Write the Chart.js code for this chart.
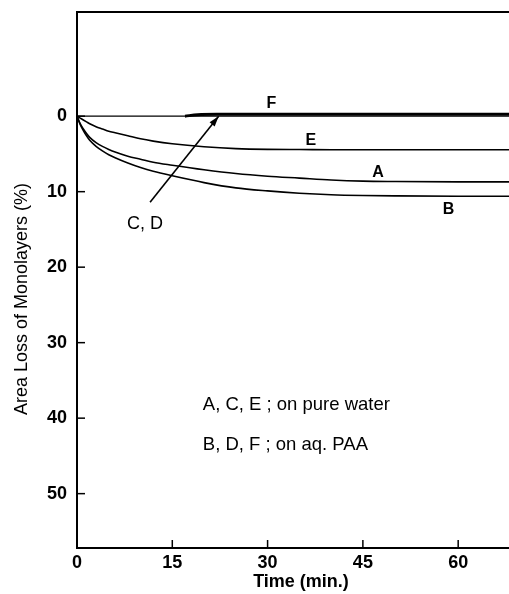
<!DOCTYPE html>
<html>
<head>
<meta charset="utf-8">
<script src="https://cdn.jsdelivr.net/npm/chart.js@4"></script>
<style>
  body { margin: 0; background: #fff; }
  canvas { display: block; }
</style>
</head>
<body>
<canvas id="myChart" width="509" height="594"></canvas>
<script>
// time (min.) and area loss (%)
const times = [0, 0.5, 1, 1.5, 2, 3, 4, 5, 6, 8, 10, 12, 15, 20, 25, 30, 35, 40, 45, 50, 60, 68];
const curveA = [0, 1.0, 1.7, 2.3, 2.8, 3.5, 4.0, 4.4, 4.75, 5.3, 5.7, 6.1, 6.5, 7.1, 7.6, 7.95, 8.2, 8.45, 8.6, 8.65, 8.7, 8.7];
const curveB = [0, 1.1, 1.9, 2.6, 3.2, 4.0, 4.6, 5.1, 5.5, 6.2, 6.8, 7.3, 7.9, 8.8, 9.5, 9.9, 10.2, 10.4, 10.5, 10.55, 10.6, 10.6];
const curveE = [0, 0.25, 0.5, 0.75, 1.0, 1.4, 1.7, 2.0, 2.2, 2.6, 3.0, 3.3, 3.65, 4.05, 4.3, 4.4, 4.42, 4.44, 4.45, 4.45, 4.45, 4.45];
const timesCD = [0, 68];
const curveCD = [0, 0];
const timesF = [17, 19, 22, 30, 45, 60, 68];
const curveF = [0, -0.2, -0.25, -0.25, -0.25, -0.25, -0.25];

const xTicks = [0, 15, 30, 45, 60];
const yTicks = [0, 10, 20, 30, 40, 50];

const toPoints = (xs, ys) => xs.map((x, i) => ({ x: x, y: ys[i] }));

const lineStyle = {
  borderColor: "#000",
  borderWidth: 1.6,
  pointRadius: 0,
  cubicInterpolationMode: "monotone",
  fill: false,
};

const data = {
  datasets: [
    { label: "A", data: toPoints(times, curveA), ...lineStyle },
    { label: "B", data: toPoints(times, curveB), ...lineStyle },
    { label: "E", data: toPoints(times, curveE), ...lineStyle },
    { label: "C, D", data: toPoints(timesCD, curveCD), ...lineStyle, borderWidth: 1.2 },
    { label: "F", data: toPoints(timesF, curveF), ...lineStyle, borderWidth: 3 },
  ],
};

// text placed in data coordinates
const notes = [
  { text: "F", x: 30.6, y: -1.7, font: "bold 16px 'Liberation Sans'" },
  { text: "E", x: 36.8, y: 3.2, font: "bold 16px 'Liberation Sans'" },
  { text: "A", x: 47.4, y: 7.5, font: "bold 16px 'Liberation Sans'" },
  { text: "B", x: 58.5, y: 12.4, font: "bold 16px 'Liberation Sans'" },
  { text: "C, D", x: 10.7, y: 14.3, font: "18px 'Liberation Sans'" },
  { text: "A, C, E ; on pure water", x: 19.8, y: 38.3, font: "18.5px 'Liberation Sans'", align: "left" },
  { text: "B, D, F ; on aq. PAA", x: 19.8, y: 43.6, font: "18.5px 'Liberation Sans'", align: "left" },
];

const figurePlugin = {
  id: "figure",
  afterDraw(chart) {
    const ctx = chart.ctx;
    const xs = chart.scales.x;
    const ys = chart.scales.y;
    const area = chart.chartArea;
    ctx.save();
    ctx.strokeStyle = "#000";
    ctx.fillStyle = "#000";

    // frame: left, bottom, top
    ctx.lineWidth = 2;
    ctx.beginPath();
    ctx.moveTo(area.right, area.top);
    ctx.lineTo(area.left, area.top);
    ctx.lineTo(area.left, area.bottom);
    ctx.lineTo(area.right, area.bottom);
    ctx.stroke();

    // inward tick marks
    ctx.lineWidth = 1.5;
    xTicks.forEach((t) => {
      const px = xs.getPixelForValue(t);
      ctx.beginPath();
      ctx.moveTo(px, area.bottom);
      ctx.lineTo(px, area.bottom - 8);
      ctx.stroke();
    });
    yTicks.forEach((t) => {
      const py = ys.getPixelForValue(t);
      ctx.beginPath();
      ctx.moveTo(area.left, py);
      ctx.lineTo(area.left + 8, py);
      ctx.stroke();
    });

    // arrow pointing at C, D
    const x0 = xs.getPixelForValue(11.5), y0 = ys.getPixelForValue(11.4);
    const x1 = xs.getPixelForValue(22.3), y1 = ys.getPixelForValue(0);
    ctx.lineWidth = 1.6;
    ctx.beginPath();
    ctx.moveTo(x0, y0);
    ctx.lineTo(x1, y1);
    ctx.stroke();
    const ang = Math.atan2(y1 - y0, x1 - x0);
    ctx.beginPath();
    ctx.moveTo(x1, y1);
    ctx.lineTo(x1 - 11 * Math.cos(ang - 0.3), y1 - 11 * Math.sin(ang - 0.3));
    ctx.lineTo(x1 - 11 * Math.cos(ang + 0.3), y1 - 11 * Math.sin(ang + 0.3));
    ctx.closePath();
    ctx.fill();

    // notes
    ctx.textBaseline = "middle";
    notes.forEach((n) => {
      ctx.font = n.font;
      ctx.textAlign = n.align || "center";
      ctx.fillText(n.text, xs.getPixelForValue(n.x), ys.getPixelForValue(n.y));
    });

    // x axis title
    ctx.font = "bold 18px 'Liberation Sans'";
    ctx.textAlign = "center";
    ctx.fillText("Time (min.)", 301, 582);

    // y axis title
    ctx.font = "18px 'Liberation Sans'";
    ctx.translate(22, 299);
    ctx.rotate(-Math.PI / 2);
    ctx.fillText("Area Loss of Monolayers (%)", 0, 0);
    ctx.restore();
  },
};

const config = {
  type: "line",
  data: data,
  plugins: [figurePlugin],
  options: {
    responsive: false,
    animation: false,
    devicePixelRatio: 1,
    layout: { padding: { top: 12, right: 0, left: 0, bottom: 0 } },
    plugins: { legend: { display: false }, tooltip: { enabled: false } },
    scales: {
      x: {
        type: "linear",
        min: 0,
        max: 68,
        afterBuildTicks: (scale) => { scale.ticks = xTicks.map((v) => ({ value: v })); },
        afterFit: (scale) => {
          scale.height = 46;
          scale.paddingLeft = 0;
          scale.paddingRight = 0;
        },
        grid: { display: false, drawTicks: false },
        border: { display: false },
        ticks: {
          color: "#000",
          padding: 4,
          maxRotation: 0,
          font: { family: "'Liberation Sans'", size: 18, weight: "bold" },
        },
      },
      y: {
        type: "linear",
        reverse: true,
        min: -13.8,
        max: 57.2,
        afterBuildTicks: (scale) => { scale.ticks = yTicks.map((v) => ({ value: v })); },
        afterFit: (scale) => {
          scale.width = 77;
          scale.paddingTop = 0;
          scale.paddingBottom = 0;
        },
        grid: { display: false, drawTicks: false },
        border: { display: false },
        ticks: {
          color: "#000",
          padding: 10,
          font: { family: "'Liberation Sans'", size: 18, weight: "bold" },
        },
      },
    },
  },
};

const myChart = new Chart(document.getElementById("myChart"), config);
</script>
</body>
</html>
